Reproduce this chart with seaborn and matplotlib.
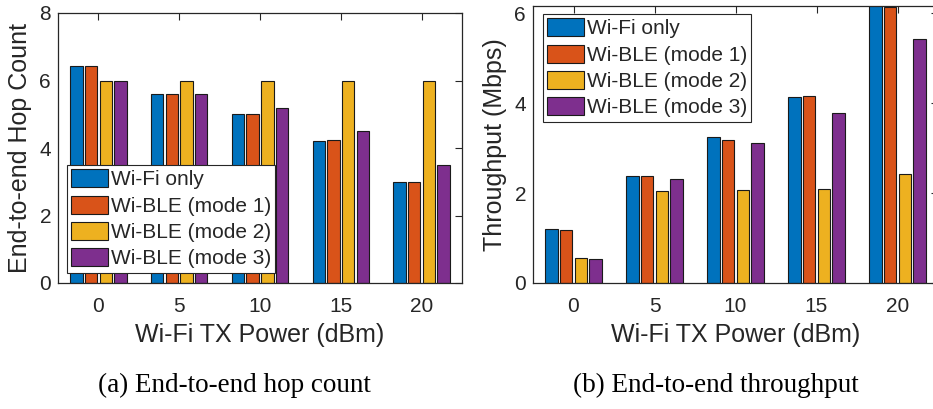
import matplotlib
matplotlib.use("Agg")
import matplotlib.pyplot as plt
import seaborn as sns
import pandas as pd

# Data
powers = ["0", "5", "10", "15", "20"]
series = ["Wi-Fi only", "Wi-BLE (mode 1)", "Wi-BLE (mode 2)", "Wi-BLE (mode 3)"]

hops_wifi = [6.43, 5.6, 5.0, 4.2, 3.0]
hops_mode1 = [6.43, 5.6, 5.0, 4.23, 3.0]
hops_mode2 = [6.0, 6.0, 6.0, 6.0, 6.0]
hops_mode3 = [6.0, 5.6, 5.2, 4.5, 3.5]

tput_wifi = [1.19, 2.38, 3.24, 4.13, 6.35]
tput_mode1 = [1.17, 2.37, 3.19, 4.15, 6.13]
tput_mode2 = [0.56, 2.04, 2.06, 2.09, 2.43]
tput_mode3 = [0.53, 2.31, 3.12, 3.77, 5.43]

colors = ["#0072BD", "#D95319", "#EDB120", "#7E2F8E"]
text_color = "#262626"

sns.set_theme(style="white")
plt.rcParams["font.family"] = ["Liberation Sans", "DejaVu Sans"]
plt.rcParams["text.color"] = text_color
plt.rcParams["axes.labelcolor"] = text_color
plt.rcParams["xtick.color"] = text_color
plt.rcParams["ytick.color"] = text_color


def long_table(cols):
    rows = []
    for name, vals in zip(series, cols):
        for p, v in zip(powers, vals):
            rows.append({"power": p, "series": name, "value": v})
    return pd.DataFrame(rows)


hops_df = long_table([hops_wifi, hops_mode1, hops_mode2, hops_mode3])
tput_df = long_table([tput_wifi, tput_mode1, tput_mode2, tput_mode3])

fig = plt.figure(figsize=(9.33, 4.09), dpi=100)
ax1 = fig.add_axes([58 / 933, 1 - 283 / 409, 404 / 933, 270 / 409])
ax2 = fig.add_axes([533 / 933, 1 - 283 / 409, 405 / 933, 277 / 409])


def draw(ax, df, ylim, yticks, ylabel, legend_anchor):
    sns.barplot(data=df, x="power", y="value", hue="series", order=powers,
                hue_order=series, palette=colors, saturation=1,
                width=0.727, gap=0.16, edgecolor="#1a1a1a", linewidth=0.8,
                errorbar=None, ax=ax)
    ax.set_xlim(-0.5, 4.5)
    ax.set_ylim(*ylim)
    ax.set_yticks(yticks)
    ax.set_xlabel("Wi-Fi TX Power (dBm)", fontsize=18, labelpad=5)
    ax.set_ylabel(ylabel, fontsize=18, labelpad=5)
    ax.tick_params(axis="both", which="both", direction="in", length=5,
                   width=0.8, top=True, right=True, labelsize=15,
                   color=text_color)
    ax.tick_params(axis="x", pad=10)
    ax.tick_params(axis="y", pad=5)
    for side in ["left", "right", "top", "bottom"]:
        ax.spines[side].set_visible(True)
        ax.spines[side].set_color(text_color)
        ax.spines[side].set_linewidth(0.9)
    ax.get_legend().remove()
    handles = [plt.Rectangle((0, 0), 1, 1, facecolor=c, edgecolor="#1a1a1a",
                             linewidth=0.8) for c in colors]
    leg = fig.legend(handles, series, loc="upper left",
                     bbox_to_anchor=legend_anchor, fontsize=15,
                     frameon=True, fancybox=False, borderpad=0.2,
                     handlelength=1.75, handleheight=0.95, handletextpad=0.15,
                     labelspacing=0.3, borderaxespad=0)
    leg.get_frame().set_edgecolor(text_color)
    leg.get_frame().set_linewidth(0.8)
    leg.get_frame().set_alpha(1)


draw(ax1, hops_df, (0, 8), [0, 2, 4, 6, 8], "End-to-end Hop Count",
     (67 / 933, 1 - 165 / 409))
draw(ax2, tput_df, (0, 6.16), [0, 2, 4, 6], "Throughput (Mbps)",
     (543 / 933, 1 - 14 / 409))

cap_font = ["Liberation Serif", "DejaVu Serif"]
fig.text(234 / 933, 1 - 385 / 409, "(a) End-to-end hop count",
         ha="center", va="center", fontsize=19.5, family=cap_font, color="black")
fig.text(716 / 933, 1 - 385 / 409, "(b) End-to-end throughput",
         ha="center", va="center", fontsize=19.5, family=cap_font, color="black")

fig.savefig("out.png", dpi=100)
